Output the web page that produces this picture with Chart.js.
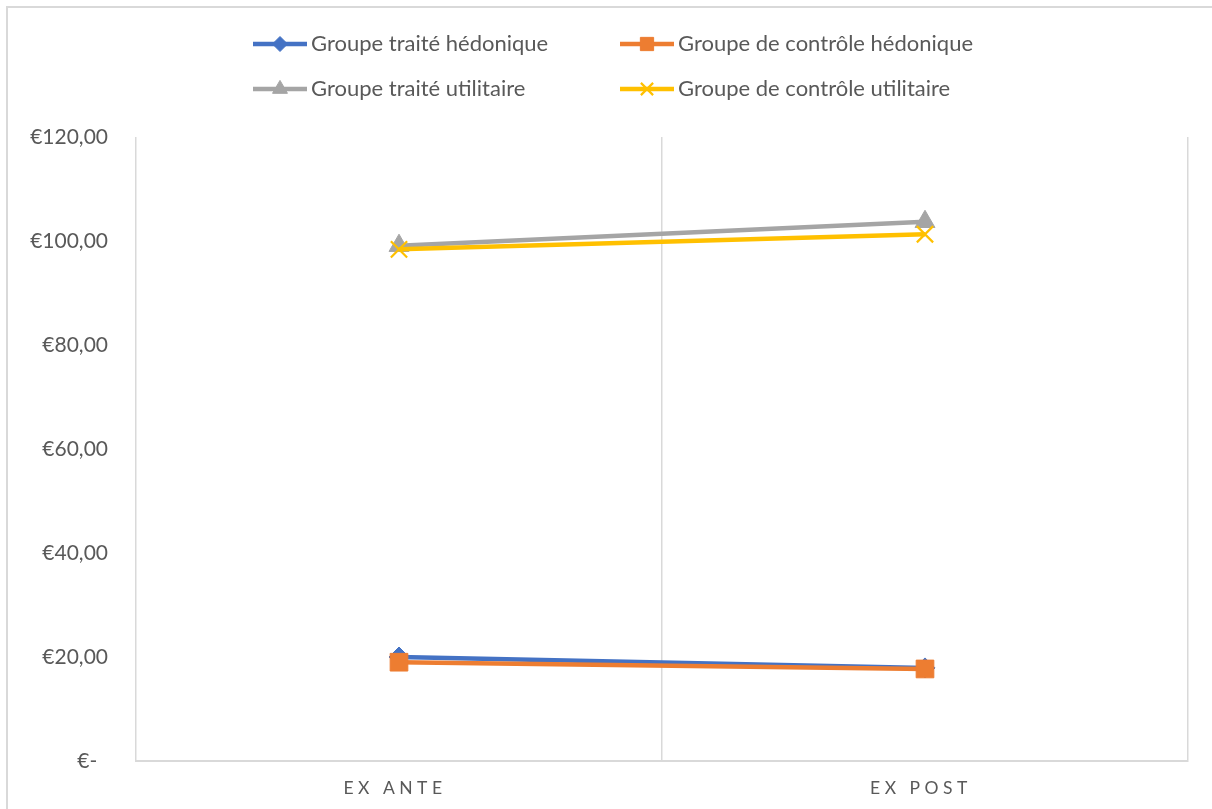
<!DOCTYPE html>
<html lang="fr">
<head>
<meta charset="utf-8">
<title>Groupe traité / contrôle – hédonique et utilitaire</title>
<script src="https://cdn.jsdelivr.net/npm/chart.js@4/dist/chart.umd.min.js"></script>
<style>
  html, body { margin: 0; padding: 0; background: #ffffff; overflow: hidden; }
  #frame {
    position: absolute; left: 6px; top: 6px; width: 1400px; height: 1000px;
    border: 2px solid #d9d9d9; box-sizing: border-box;
  }
  #c { position: absolute; left: 0; top: 0; }
</style>
</head>
<body>
<div id="frame"></div>
<canvas id="c" width="1212" height="809"></canvas>
<script>
// Périodes de mesure
const categories = ['EX ANTE', 'EX POST'];

// Montants moyens (€) par groupe
const traiteHedonique = [20.0, 17.9];
const controleHedonique = [19.0, 17.7];
const traiteUtilitaire = [99.1, 103.7];
const controleUtilitaire = [98.4, 101.3];

// Graduations de l'axe des montants (format comptable)
const yTickValues = [0, 20, 40, 60, 80, 100, 120];
const yTickLabels = ['€-  ', '€20,00', '€40,00', '€60,00', '€80,00', '€100,00', '€120,00'];

const seriesNames = [
  'Groupe traité hédonique',
  'Groupe de contrôle hédonique',
  'Groupe traité utilitaire',
  'Groupe de contrôle utilitaire'
];

const FONT = 'Lato, "Open Sans", "Liberation Sans", sans-serif';
const TEXT = '#595959';
const GRID = '#d9d9d9';

function series(label, data, color, pointStyle, radius, order) {
  return {
    label, data, order,
    borderColor: color,
    backgroundColor: color,
    borderWidth: 4.5,
    pointStyle,
    pointRadius: radius,
    pointHoverRadius: radius,
    pointBackgroundColor: color,
    pointBorderColor: color,
    pointBorderWidth: pointStyle === 'crossRot' ? 2.2 : 1,
    tension: 0,
    fill: false
  };
}

// Légende sur deux colonnes, tracée avec les styles des séries
const twoColumnLegend = {
  id: 'twoColumnLegend',
  afterDraw(chart) {
    const ctx = chart.ctx;
    const cols = [253, 620];
    const rows = [44, 89];
    chart.data.datasets.forEach((ds, i) => {
      const x0 = cols[i % 2];
      const y = rows[Math.floor(i / 2)];
      ctx.save();
      ctx.strokeStyle = ds.borderColor;
      ctx.lineWidth = 4.5;
      ctx.beginPath();
      ctx.moveTo(x0, y);
      ctx.lineTo(x0 + 54, y);
      ctx.stroke();
      ctx.fillStyle = ds.pointBackgroundColor;
      ctx.strokeStyle = ds.pointBorderColor;
      ctx.lineWidth = ds.pointBorderWidth;
      Chart.helpers.drawPoint(ctx, {
        pointStyle: ds.pointStyle,
        radius: ds.pointRadius * 0.75,
        rotation: 0,
        borderWidth: ds.pointBorderWidth
      }, x0 + 27, y);
      ctx.fillStyle = TEXT;
      ctx.font = '22px ' + FONT;
      ctx.textBaseline = 'middle';
      ctx.textAlign = 'left';
      ctx.fillText(ds.label, x0 + 58, y);
      ctx.restore();
    });
  }
};

// Libellés des périodes, espacés, sous l'axe horizontal
const spacedCategoryLabels = {
  id: 'spacedCategoryLabels',
  afterDraw(chart) {
    const ctx = chart.ctx;
    const xs = chart.scales.x;
    ctx.save();
    ctx.fillStyle = TEXT;
    ctx.font = '17.5px ' + FONT;
    ctx.textAlign = 'center';
    ctx.textBaseline = 'middle';
    if ('letterSpacing' in ctx) ctx.letterSpacing = '4.5px';
    categories.forEach((lab, i) => {
      ctx.fillText(lab, xs.getPixelForValue(i) - 4, 788);
    });
    ctx.restore();
  }
};

new Chart(document.getElementById('c'), {
  type: 'line',
  data: {
    labels: categories,
    datasets: [
      series(seriesNames[0], traiteHedonique, '#4472C4', 'rectRot', 10, 4),
      series(seriesNames[1], controleHedonique, '#ED7D31', 'rect', 12.5, 3),
      series(seriesNames[2], traiteUtilitaire, '#A5A5A5', 'triangle', 11.5, 2),
      series(seriesNames[3], controleUtilitaire, '#FFC000', 'crossRot', 11.5, 1)
    ]
  },
  options: {
    responsive: false,
    animation: false,
    devicePixelRatio: 1,
    layout: { padding: { left: 0, right: 24, top: 137, bottom: 0 } },
    plugins: {
      legend: { display: false },
      tooltip: { enabled: false }
    },
    scales: {
      x: {
        type: 'category',
        offset: true,
        grid: { display: true, offset: true, color: GRID, lineWidth: 1.5, drawTicks: false },
        border: { display: true, color: GRID, width: 2 },
        ticks: { display: false },
        afterFit(scale) { scale.height = 48; }
      },
      y: {
        min: 0,
        max: 120,
        afterBuildTicks(scale) { scale.ticks = yTickValues.map(v => ({ value: v })); },
        grid: { display: false, drawTicks: false },
        border: { display: false },
        ticks: {
          padding: 28,
          color: TEXT,
          font: { family: FONT, size: 21 },
          callback(value) {
            const i = yTickValues.indexOf(value);
            return i >= 0 ? yTickLabels[i] : '';
          }
        },
        afterFit(scale) { scale.width = 136; }
      }
    }
  },
  plugins: [twoColumnLegend, spacedCategoryLabels]
});
</script>
</body>
</html>
